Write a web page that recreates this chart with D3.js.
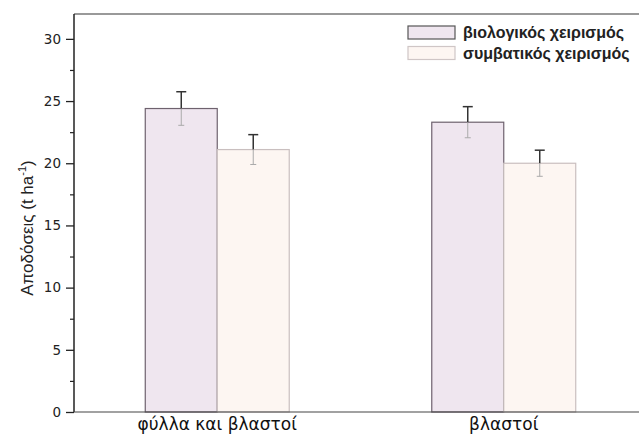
<!DOCTYPE html>
<html><head><meta charset="utf-8">
<script src="https://cdn.jsdelivr.net/npm/d3@7"></script>
<style>body{margin:0;background:#fff}svg{display:block;font-family:"Liberation Sans",Arial,sans-serif}</style>
</head><body><svg id="c" width="639" height="436"></svg>
<script>
const categories = ["φύλλα και βλαστοί", "βλαστοί"];
const seriesNames = ["βιολογικός χειρισμός", "συμβατικός χειρισμός"];
const bioValues = [24.4, 23.3];
const bioErrors = [1.35, 1.25];
const convValues = [21.1, 20.0];
const convErrors = [1.2, 1.05];
const yTicks = [0, 5, 10, 15, 20, 25, 30];
const yMinorTicks = [2.5, 7.5, 12.5, 17.5, 22.5, 27.5];

const fills = ["#efe6ef", "#fdf6f2"];
const strokes = ["#6e626e", "#c9bfbf"];

const svg = d3.select("#c");
const m = {left: 74, top: 14, bottom: 412, right: 647};
const y = d3.scaleLinear().domain([0, 32]).range([m.bottom, m.top]);
const x0 = d3.scaleBand().domain(categories).range([m.left, m.right]).paddingInner(0).paddingOuter(0);
const x1 = d3.scaleBand().domain(seriesNames).range([0, x0.bandwidth()]).paddingInner(0).paddingOuter(0.99);

const data = categories.map((c, i) => ({
  cat: c,
  vals: [
    {s: seriesNames[0], v: bioValues[i], e: bioErrors[i], k: 0},
    {s: seriesNames[1], v: convValues[i], e: convErrors[i], k: 1}
  ]
}));

// top frame line
svg.append("line").attr("x1", m.left).attr("x2", 639).attr("y1", m.top).attr("y2", m.top)
  .attr("stroke", "#777").attr("stroke-width", 1.5);

const g = svg.append("g").selectAll("g").data(data).join("g")
  .attr("transform", d => `translate(${x0(d.cat)},0)`);

g.selectAll("rect").data(d => d.vals).join("rect")
  .attr("x", d => x1(d.s)).attr("width", x1.bandwidth())
  .attr("y", d => y(d.v)).attr("height", d => y(0) - y(d.v))
  .attr("fill", d => fills[d.k]).attr("stroke", d => strokes[d.k]).attr("stroke-width", 1.2);

// error bars
g.selectAll("g.err").data(d => d.vals).join("g").attr("class", "err").each(function(d) {
  const cx = x1(d.s) + x1.bandwidth() / 2;
  const el = d3.select(this);
  el.append("line").attr("x1", cx).attr("x2", cx).attr("y1", y(d.v + d.e)).attr("y2", y(d.v))
    .attr("stroke", "#333").attr("stroke-width", 1.5);
  el.append("line").attr("x1", cx).attr("x2", cx).attr("y1", y(d.v)).attr("y2", y(d.v - d.e))
    .attr("stroke", "#aaa").attr("stroke-width", 1);
  el.append("line").attr("x1", cx - 5).attr("x2", cx + 5).attr("y1", y(d.v + d.e)).attr("y2", y(d.v + d.e))
    .attr("stroke", "#333").attr("stroke-width", 1.5);
  el.append("line").attr("x1", cx - 3).attr("x2", cx + 3).attr("y1", y(d.v - d.e)).attr("y2", y(d.v - d.e))
    .attr("stroke", "#aaa").attr("stroke-width", 1);
});

// y axis
const yAxis = svg.append("g").attr("transform", `translate(${m.left},0)`)
  .call(d3.axisLeft(y).tickValues(yTicks).tickSize(8).tickPadding(5).tickFormat(d3.format("d")));
yAxis.select(".domain").attr("stroke", "#222").attr("stroke-width", 1.5).attr("d", `M0,${m.top}V${m.bottom}`);
yAxis.selectAll(".tick line").attr("stroke", "#222").attr("stroke-width", 1.3);
yAxis.selectAll(".tick text").attr("font-size", 13.5).attr("fill", "#222").attr("font-family", "DejaVu Sans, sans-serif");
svg.append("g").attr("transform", `translate(${m.left},0)`)
  .call(d3.axisLeft(y).tickValues(yMinorTicks).tickSize(4).tickFormat(""))
  .call(s => s.select(".domain").remove())
  .selectAll(".tick line").attr("stroke", "#222").attr("stroke-width", 1.2);

// x axis
const xAxis = svg.append("g").attr("transform", `translate(0,${m.bottom})`)
  .call(d3.axisBottom(x0).tickSize(0).tickPadding(6));
xAxis.select(".domain").attr("stroke", "#444").attr("stroke-width", 1.2).attr("d", `M${m.left},0H639`);
xAxis.selectAll(".tick text").attr("font-size", 17).attr("fill", "#111").attr("font-family", "DejaVu Sans, sans-serif");

// y label
svg.append("text").attr("transform", "translate(33,228) rotate(-90)").attr("text-anchor", "middle")
  .attr("font-size", 17).attr("fill", "#222")
  .html('Αποδόσεις (t ha<tspan dy="-7" font-size="11">-1</tspan><tspan dy="7">)</tspan>');

// legend
const lg = svg.append("g");
seriesNames.forEach((s, i) => {
  const yy = 26 + i * 20.5;
  lg.append("rect").attr("x", 408).attr("y", yy).attr("width", 47).attr("height", 13)
    .attr("fill", fills[i]).attr("stroke", i === 0 ? "#555" : "#cfc6c6").attr("stroke-width", 1.2);
  lg.append("text").attr("x", 463).attr("y", yy + 12).attr("font-size", 16).attr("font-weight", "bold")
    .attr("fill", "#222").text(s);
});
</script></body></html>
